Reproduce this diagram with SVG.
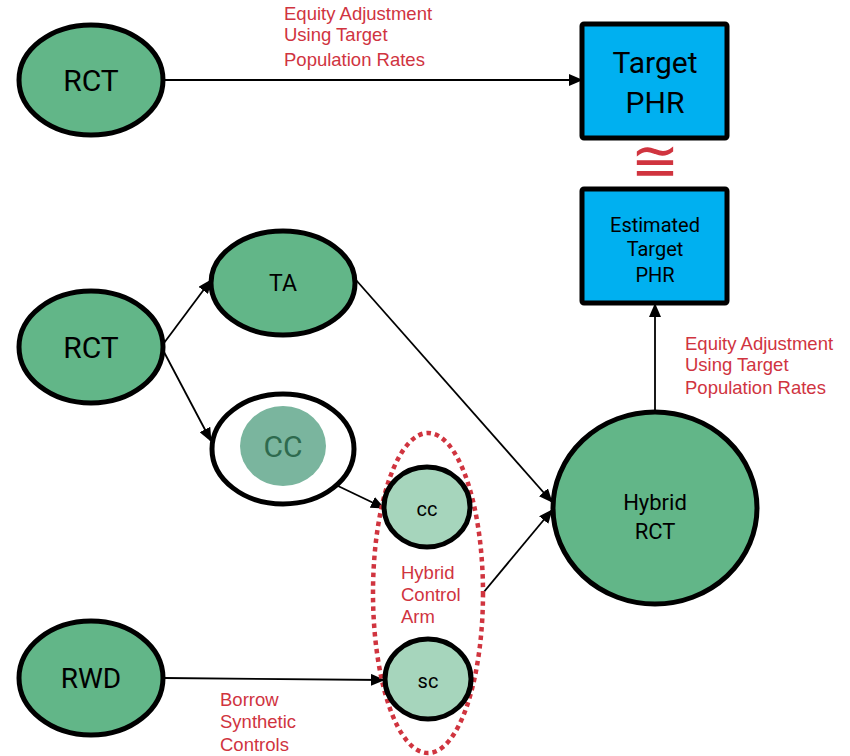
<svg xmlns="http://www.w3.org/2000/svg" width="850" height="756" viewBox="0 0 850 756">
<defs>
<style>
.node{fill:#62B688;stroke:#000;stroke-width:5}
.sub{fill:#A6D5BC;stroke:#000;stroke-width:5}
.box{fill:#00B0F0;stroke:#000;stroke-width:5}
.t{font-family:Roboto,"Liberation Sans",sans-serif;fill:#000;text-anchor:middle}
.lbl{font-family:"Liberation Sans",Arial,sans-serif;font-size:18.5px;fill:#D0343F}
.edge{stroke:#000;stroke-width:1.8;fill:none;marker-end:url(#ah)}
</style>
<marker id="ah" viewBox="0 0 14 12" refX="13" refY="6" markerWidth="14" markerHeight="12" markerUnits="userSpaceOnUse" orient="auto">
<path d="M0,0 L14,6 L0,12 z" fill="#000"/>
</marker>
</defs>
<rect width="850" height="756" fill="#fff"/>
<g id="connectors">
<line class="edge" x1="164" y1="80" x2="582" y2="80"/>
<line class="edge" x1="164" y1="343" x2="211" y2="280"/>
<line class="edge" x1="164" y1="352" x2="211" y2="441"/>
<line class="edge" x1="356" y1="280" x2="552" y2="502"/>
<line class="edge" x1="313" y1="474" x2="384" y2="508"/>
<line class="edge" x1="483" y1="593" x2="552" y2="510"/>
<line class="edge" x1="164" y1="678" x2="384" y2="680"/>
<line class="edge" x1="655" y1="410" x2="655" y2="304"/>
</g>
<g id="rct-top">
<ellipse class="node" cx="91" cy="80" rx="72" ry="55"/>
<text class="t" x="91" y="91" font-size="30">RCT</text>
</g>
<g id="target-phr">
<rect class="box" x="582" y="24" width="145" height="114" rx="2"/>
<text class="t" x="655" y="73" font-size="30">Target</text>
<text class="t" x="655" y="113" font-size="30">PHR</text>
</g>
<g id="approx">
<text x="655" y="181" font-family="DejaVu Sans,sans-serif" font-size="58" fill="#D0343F" text-anchor="middle">≅</text>
</g>
<g id="estimated-target-phr">
<rect class="box" x="582" y="189" width="145" height="114" rx="2"/>
<text class="t" x="655" y="232" font-size="20">Estimated</text>
<text class="t" x="655" y="256" font-size="20">Target</text>
<text class="t" x="655" y="282" font-size="20">PHR</text>
</g>
<g id="rct-mid">
<ellipse class="node" cx="91" cy="347" rx="72" ry="56"/>
<text class="t" x="91" y="358" font-size="30">RCT</text>
</g>
<g id="ta">
<ellipse class="node" cx="283" cy="283" rx="72" ry="52"/>
<text class="t" x="283" y="291" font-size="23">TA</text>
</g>
<g id="cc-outer">
<ellipse cx="283" cy="449" rx="71" ry="55" fill="#fff" stroke="#000" stroke-width="5"/>
<ellipse cx="283" cy="446" rx="43" ry="40" fill="#7AB59E"/>
<text x="283" y="457" font-family="Roboto,'Liberation Sans',sans-serif" font-size="30" fill="#2E6A4E" text-anchor="middle">CC</text>
</g>
<g id="hybrid-control-arm">
<ellipse cx="428" cy="593" rx="55" ry="160" fill="none" stroke="#D0343F" stroke-width="4.5" stroke-dasharray="4.5 4"/>
<text class="lbl" x="401" y="579">Hybrid</text>
<text class="lbl" x="401" y="601">Control</text>
<text class="lbl" x="401" y="623">Arm</text>
</g>
<g id="cc">
<ellipse class="sub" cx="427" cy="507" rx="43" ry="40"/>
<text class="t" x="427" y="516" font-size="20">cc</text>
</g>
<g id="sc">
<ellipse class="sub" cx="428" cy="679" rx="43" ry="40"/>
<text class="t" x="428" y="688" font-size="20">sc</text>
</g>
<g id="hybrid-rct">
<ellipse class="node" cx="655" cy="508" rx="102" ry="96"/>
<text class="t" x="655" y="510" font-size="22">Hybrid</text>
<text class="t" x="655" y="539" font-size="22">RCT</text>
</g>
<g id="rwd">
<ellipse class="node" cx="91" cy="678" rx="72" ry="57"/>
<text class="t" x="91" y="688" font-size="28">RWD</text>
</g>
<g id="labels">
<text class="lbl" x="284" y="20">Equity Adjustment</text>
<text class="lbl" x="284" y="41">Using Target</text>
<text class="lbl" x="284" y="66">Population Rates</text>
<text class="lbl" x="685" y="350">Equity Adjustment</text>
<text class="lbl" x="685" y="371">Using Target</text>
<text class="lbl" x="685" y="394">Population Rates</text>
<text class="lbl" x="220" y="706">Borrow</text>
<text class="lbl" x="220" y="728">Synthetic</text>
<text class="lbl" x="220" y="751">Controls</text>
</g>
</svg>
